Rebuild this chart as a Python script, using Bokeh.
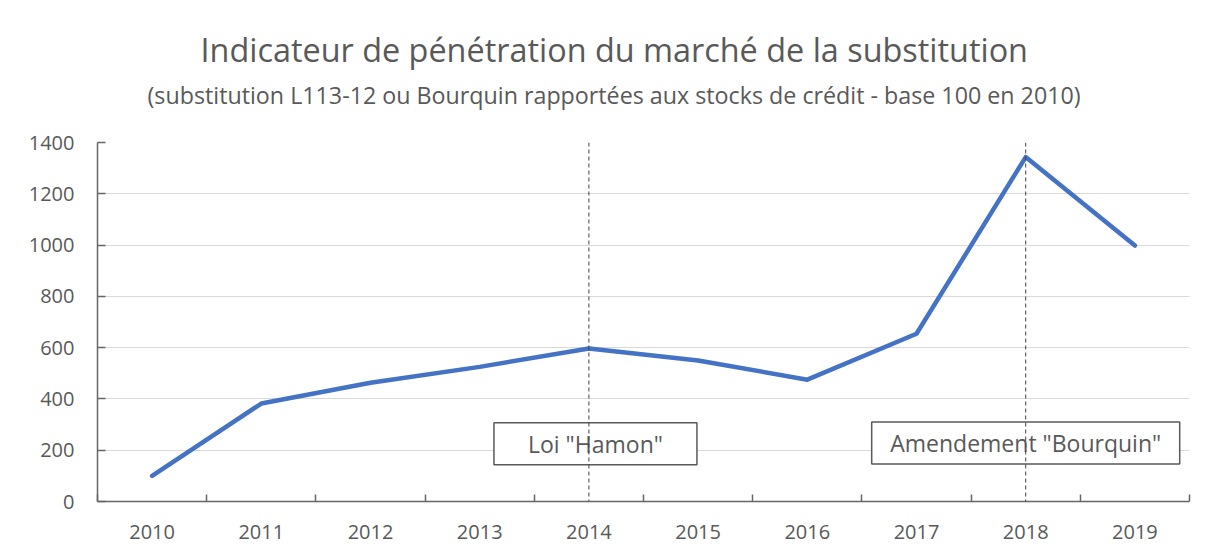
from bokeh.plotting import figure
from bokeh.models import Title, Span, FixedTicker, Range1d, ColumnDataSource, BoxAnnotation
from bokeh.core.properties import value
from bokeh.embed import file_html
from bokeh.resources import INLINE

years = [2010, 2011, 2012, 2013, 2014, 2015, 2016, 2017, 2018, 2019]
indicator = [100, 382, 463, 525, 597, 550, 475, 654, 1343, 998]
y_ticks = [0, 200, 400, 600, 800, 1000, 1200, 1400]
event_years = [2014, 2018]
event_labels = ['Loi "Hamon"', 'Amendement "Bourquin"']
event_label_y = [225, 228]
title_text = "Indicateur de pénétration du marché de la substitution"
subtitle_text = "(substitution L113-12 ou Bourquin rapportées aux stocks de crédit - base 100 en 2010)"

FONT = "Open Sans"
GREY = "#595959"
BOX_DX = [0.06, 0.0]      # horizontal nudge of the annotation boxes (style)
BOX_W = [203, 308]        # box widths in px (style)

p = figure(width=1200, height=547, output_backend="svg", toolbar_location=None,
           x_range=Range1d(years[0] - 0.5, years[-1] + 0.5),
           y_range=Range1d(0, 1400),
           min_border_left=97, min_border_right=11, min_border_top=142, min_border_bottom=46)
p.outline_line_color = None
p.background_fill_color = "white"
p.border_fill_color = "white"

# titles
p.title.text = title_text
p.title.align = "left"
p.title.offset = 103
p.title.text_font = FONT
p.title.text_font_size = "32.4px"
p.title.text_font_style = "normal"
p.title.text_color = GREY
p.title.standoff = -53
p.add_layout(Title(text=subtitle_text, align="left", offset=50, text_font=FONT,
                   text_font_size="23.25px", text_font_style="normal",
                   text_color=GREY, standoff=64), "above")

# chart-area border (frame-relative screen units)
p.add_layout(BoxAnnotation(left=-89, right=1300, top=-132, bottom=2000,
                           left_units="screen", right_units="screen",
                           top_units="screen", bottom_units="screen",
                           fill_color=None, line_color="#d9d9d9", line_width=1.5))

# x axis
p.xaxis.ticker = FixedTicker(ticks=years, minor_ticks=[y - 0.5 for y in years] + [years[-1] + 0.5])
p.xaxis.major_tick_line_color = None
p.xaxis.minor_tick_in = 7
p.xaxis.minor_tick_out = 0
p.xaxis.minor_tick_line_color = "#666666"
p.xaxis.minor_tick_line_width = 1.5
p.xaxis.axis_line_color = "#666666"
p.xaxis.axis_line_width = 1.5
p.xaxis.major_label_text_font = FONT
p.xaxis.major_label_text_font_size = "20px"
p.xaxis.major_label_text_color = GREY
p.xaxis.major_label_standoff = 17
p.xgrid.grid_line_color = None

# y axis
p.yaxis.ticker = FixedTicker(ticks=y_ticks)
p.yaxis.minor_tick_line_color = None
p.yaxis.major_tick_in = 8
p.yaxis.major_tick_out = 0
p.yaxis.major_tick_line_color = "#666666"
p.yaxis.major_tick_line_width = 1.5
p.yaxis.axis_line_color = "#666666"
p.yaxis.axis_line_width = 1.5
p.yaxis.major_label_text_font = FONT
p.yaxis.major_label_text_font_size = "20px"
p.yaxis.major_label_text_color = GREY
p.yaxis.major_label_standoff = 23
p.ygrid.grid_line_color = "#d9d9d9"
p.ygrid.grid_line_width = 1

# event lines
for ey in event_years:
    p.add_layout(Span(location=ey, dimension="height", line_color="#404040",
                      line_width=1, line_dash="4 3"))

# data line
src = ColumnDataSource(dict(x=years, y=indicator))
p.line("x", "y", source=src, line_color="#4472C4", line_width=4.5,
       line_join="round", line_cap="round")

# event boxes
ev = ColumnDataSource(dict(x=[e + d for e, d in zip(event_years, BOX_DX)],
                           y=event_label_y, t=event_labels, w=BOX_W))
p.rect("x", "y", width="w", height=42, width_units="screen", height_units="screen",
       source=ev, fill_color="white", line_color=GREY, line_width=1.5)
p.text("x", "y", text="t", source=ev, text_align="center", text_baseline="middle",
       text_font=value(FONT), text_font_size="23px", text_color=GREY)

open("out.html", "w").write(file_html(p, INLINE))
